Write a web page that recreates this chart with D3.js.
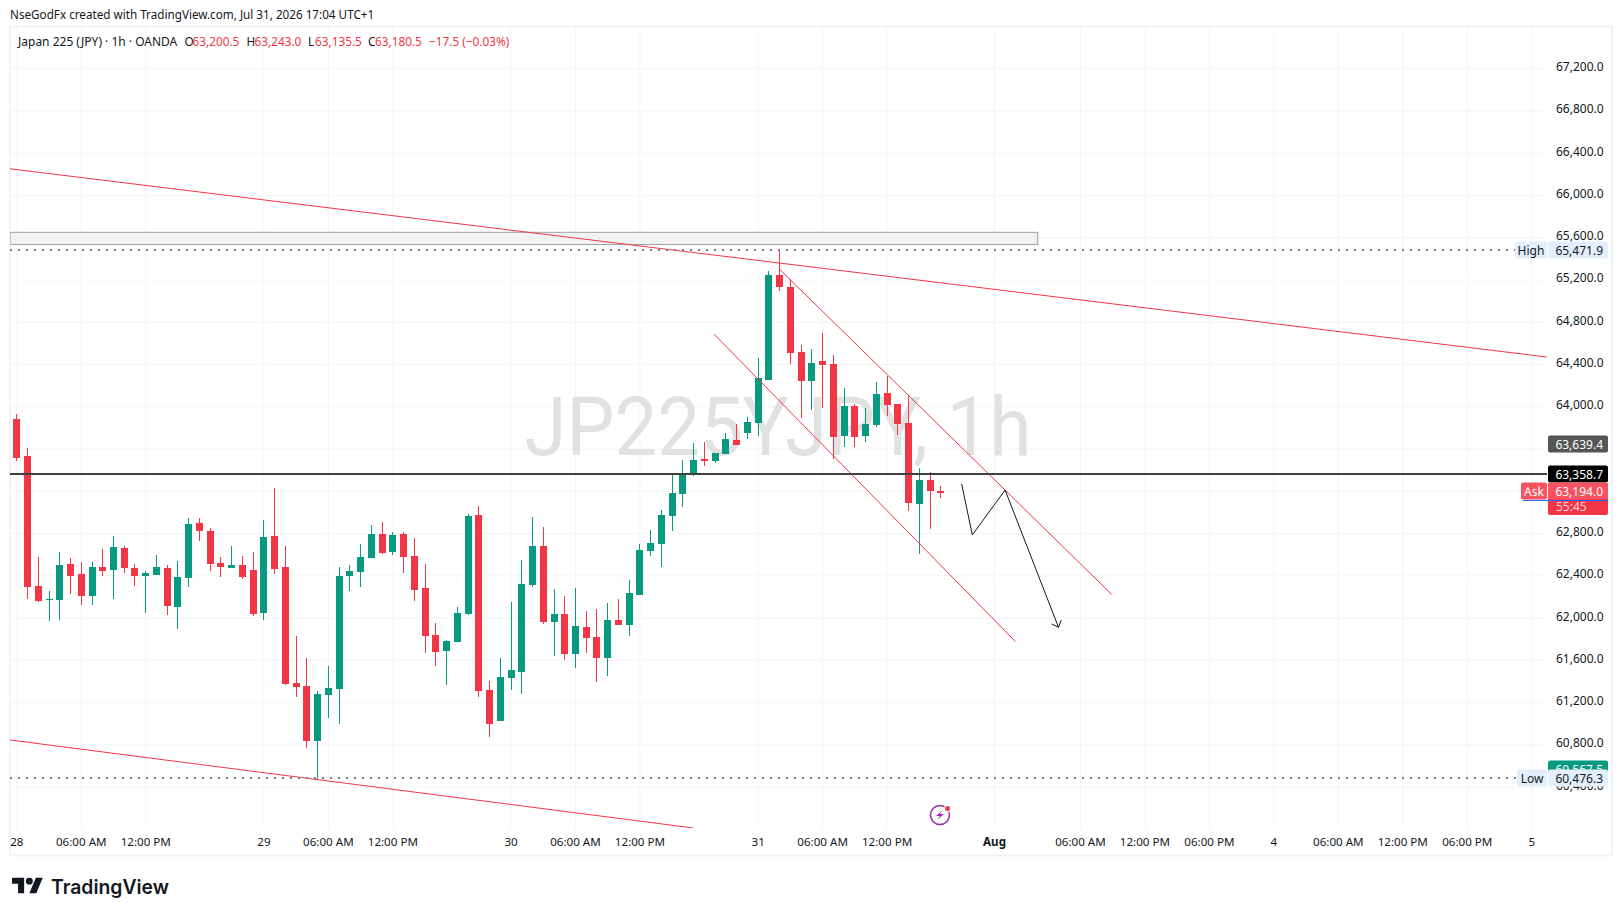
<!DOCTYPE html>
<html>
<head>
<meta charset="utf-8">
<style>
  html, body { margin: 0; padding: 0; background: #fff; overflow: hidden; }
  svg { display: block; }
  text { font-family: "Noto Sans", sans-serif; fill: #131722; }
</style>
</head>
<body>
<svg id="chart" width="1623" height="916"></svg>
<script src="https://cdn.jsdelivr.net/npm/d3@7"></script>
<script>
// 1h candles, one entry per bar
const opens = [63880,63530,62299,62167,62167,62508,62413,62205,62479,62451,62659,62470,62394,62404,62470,62101,62375,62896,62820,62517,62470,62498,62451,62044,62773,62479,61381,61353,60833,61268,61325,62394,62432,62564,62791,62621,62791,62583,62280,61836,61684,61769,62034,62971,61315,61022,61429,61485,62309,62678,61959,62034,61656,61911,61817,61618,61978,61930,62214,62631,62697,62962,63170,63359,63501,63482,63549,63681,63747,63842,64249,65243,65129,64514,64239,64429,64400,63719,64003,63719,63823,64126,64022,63842,63075,63303,63200.5];
const highs = [63927,63605,62574,62252,62621,62564,62526,62526,62650,62773,62678,62508,62441,62593,62498,62536,62943,62943,62848,62574,62678,62583,62621,62924,63227,62678,61826,61618,61306,61542,62479,62498,62697,62877,62905,62810,62810,62754,62508,61949,61788,62101,62981,63056,61400,61618,62148,62545,62952,62858,62271,62205,62280,62063,62082,62138,62176,62356,62697,62829,63019,63369,63492,63653,63662,63558,63747,63832,63899,64457,65280,65471.9,65205,64580,64542,64694,64485,64173,64022,63984,64230,64287,64022,64107,63416,63378,63243];
const lows = [63482,62176,62148,61968,61978,62224,62120,62120,62394,62176,62422,62299,62044,62404,62025,61892,62290,62725,62441,62385,62470,62366,62015,61978,62413,61362,61249,60766,60476.3,61050,60993,62252,62290,62564,62602,62593,62422,62157,61665,61542,61362,61769,62025,61249,60870,61022,61315,61277,62290,61940,61637,61599,61523,61665,61391,61447,61930,61826,62214,62583,62479,62820,63047,63340,63435,63463,63549,63634,63691,63719,64249,65091,64400,63889,63965,63984,63501,63615,63615,63662,63804,63908,63728,63009,62602,62839,63135.5];
const closes = [63511,62290,62157,62176,62498,62394,62205,62479,62441,62668,62470,62394,62422,62479,62110,62385,62886,62820,62508,62479,62498,62385,62034,62763,62460,61372,61344,60833,61277,61334,62394,62441,62574,62791,62612,62782,62574,62262,61826,61675,61779,62044,62962,61306,60993,61438,61504,62318,62678,61959,62034,61656,61921,61807,61618,61978,61930,62233,62640,62706,62971,63180,63369,63492,63482,63558,63691,63634,63851,64268,65243,65129,64504,64239,64410,64391,63709,64003,63709,63832,64116,64012,63832,63085,63303,63198,63180.5];

const priceTicks = d3.range(60400, 67201, 400);
const hiddenPriceLabels = [63600, 63200]; // sit under the last price labels
const timeTickIdx = [0, 6, 12, 23, 29, 35, 46, 52, 58, 69, 75, 81, 91, 99, 105, 111, 117, 123, 129, 135, 141];
const timeTickLabels = ["28", "06:00 AM", "12:00 PM", "29", "06:00 AM", "12:00 PM", "30", "06:00 AM", "12:00 PM", "31", "06:00 AM", "12:00 PM", "Aug", "06:00 AM", "12:00 PM", "06:00 PM", "4", "06:00 AM", "12:00 PM", "06:00 PM", "5"];

// drawings, as [bar index, price]
const topTrend = [[-0.587, 66247.6], [142.43, 64466.5]];
const bottomTrend = [[-0.587, 60842], [63.03, 60009]];
const channelUpper = [[71.02, 65299], [101.95, 62220]];
const channelLower = [[64.96, 64681], [92.99, 61774]];
const projection = [[87.99, 63264.7], [88.98, 62782], [92.03, 63208], [97, 61908.6]];
const arrowHead = [[96.37, 61940], [97, 61908.6], [97.25, 61976]];
const zone = { from: -0.587, to: 95.07, top: 65646.6, bottom: 65531 };

const highPrice = 65471.9, lowPrice = 60476.3, linePrice = 63358.7;
const legendParts = ["O", "63,200.5", "H", "63,243.0", "L", "63,135.5", "C", "63,180.5", "−17.5 (−0.03%)"];
const legendX = [184.5, 192.5, 246.5, 254.5, 308, 315, 368, 375, 429];

const RED = "#f23645", GREEN = "#089981", GRID = "#f3f4f6";
const paneLeft = 10, paneRight = 1547, paneTop = 27, paneBottom = 828;

const svg = d3.select("#chart");
const x = d3.scaleLinear().domain([0, 86]).range([16.3, 940.3]);
const y = d3.scaleLinear().domain([60400, 64000]).range([786.7, 406.3]);
const fmt = d3.format(",.1f");

svg.append("defs").append("clipPath").attr("id", "pane")
    .append("rect").attr("x", paneLeft).attr("y", paneTop)
    .attr("width", paneRight - paneLeft).attr("height", paneBottom - paneTop);

// frame
svg.append("rect").attr("x", 10).attr("y", 26.5).attr("width", 1602).attr("height", 829)
    .attr("fill", "none").attr("stroke", "#f0f3fa").attr("stroke-width", 2);

// grid
const yGrid = svg.append("g").attr("transform", `translate(${paneLeft},0)`)
    .call(d3.axisRight(y).tickValues(priceTicks).tickSize(paneRight - paneLeft).tickFormat(""));
yGrid.select(".domain").remove();
yGrid.selectAll("line").attr("stroke", GRID);

const xGrid = svg.append("g").attr("transform", `translate(0,${paneBottom})`)
    .call(d3.axisBottom(x).tickValues(timeTickIdx).tickSize(paneTop - paneBottom).tickFormat(""));
xGrid.select(".domain").remove();
xGrid.selectAll("line").attr("stroke", GRID);

// watermark
svg.append("text").attr("x", 778).attr("y", 455).attr("text-anchor", "middle")
    .attr("textLength", 507).attr("lengthAdjust", "spacingAndGlyphs")
    .style("font-family", "Roboto").style("font-size", "82px").style("fill", "#e1e1e1")
    .text("JP225YJPY, 1h");

// candles
const candleG = svg.append("g").attr("clip-path", "url(#pane)");
const candles = candleG.selectAll("g").data(opens).join("g")
    .attr("fill", (d, i) => closes[i] >= d ? GREEN : RED);
candles.append("rect")
    .attr("x", (d, i) => Math.round(x(i)))
    .attr("width", 1)
    .attr("y", (d, i) => Math.round(y(highs[i])))
    .attr("height", (d, i) => Math.max(1, Math.round(y(lows[i])) - Math.round(y(highs[i]))));
candles.append("rect")
    .attr("x", (d, i) => Math.round(x(i)) - 3)
    .attr("width", 7)
    .attr("y", (d, i) => Math.round(y(Math.max(d, closes[i]))))
    .attr("height", (d, i) => Math.max(1, Math.round(y(Math.min(d, closes[i]))) - Math.round(y(Math.max(d, closes[i])))));

// drawings
const line = d3.line().x(d => x(d[0])).y(d => y(d[1]));
const drawings = svg.append("g").attr("clip-path", "url(#pane)").attr("fill", "none");

drawings.append("rect")
    .attr("x", x(zone.from)).attr("y", y(zone.top))
    .attr("width", x(zone.to) - x(zone.from)).attr("height", y(zone.bottom) - y(zone.top))
    .attr("fill", "#f2f2f2").attr("stroke", "#9e9e9e");

[topTrend, bottomTrend, channelUpper, channelLower].forEach(pts => {
    drawings.append("path").attr("d", line(pts)).attr("stroke", RED).attr("stroke-width", 1);
});
drawings.append("path").attr("d", line(projection)).attr("stroke", "#131722").attr("stroke-width", 1);
drawings.append("path").attr("d", line(arrowHead)).attr("stroke", "#131722").attr("stroke-width", 1);

[highPrice, lowPrice].forEach(p => {
    drawings.append("line").attr("x1", paneLeft).attr("x2", paneRight)
        .attr("y1", Math.floor(y(p))).attr("y2", Math.floor(y(p)))
        .attr("stroke", "#787b86").attr("stroke-width", 2).attr("stroke-dasharray", "2 6");
});
drawings.append("line").attr("x1", paneLeft).attr("x2", paneRight + 1)
    .attr("y1", y(linePrice)).attr("y2", y(linePrice))
    .attr("stroke", "#404040").attr("stroke-width", 2);

// price axis
const yAxis = svg.append("g").attr("transform", "translate(1556,0)")
    .call(d3.axisRight(y).tickValues(priceTicks).tickSize(0).tickPadding(0)
        .tickFormat(d => hiddenPriceLabels.includes(d) ? "" : fmt(d)));
yAxis.select(".domain").remove();
yAxis.selectAll("text").attr("dy", "0.2em")
    .style("font-size", "12px").style("font-family", "Noto Sans").style("fill", "#131722");

// time axis
const xAxis = svg.append("g").attr("transform", `translate(0,${paneBottom})`)
    .call(d3.axisBottom(x).tickValues(timeTickIdx).tickSize(0).tickPadding(9.5)
        .tickFormat((d, i) => timeTickLabels[i]));
xAxis.select(".domain").remove();
xAxis.selectAll("text").style("font-size", "11.6px").style("font-family", "Noto Sans").style("fill", "#131722")
    .style("font-weight", (d, i) => timeTickLabels[i] === "Aug" ? 700 : 400);

// price labels
function priceLabel(px, text, fill, color, h) {
    const cy = Math.floor(y(px));
    svg.append("rect").attr("x", 1548).attr("y", cy - h / 2).attr("width", 60).attr("height", h)
        .attr("rx", 2).attr("fill", fill);
    svg.append("text").attr("x", 1603).attr("y", cy + 4.5).attr("text-anchor", "end")
        .style("font-size", "12px").style("fill", color).text(text);
}
function sideTag(px, text, fill, color, left) {
    const cy = Math.floor(y(px));
    svg.append("rect").attr("x", left).attr("y", cy - 8.5).attr("width", 1547 - left).attr("height", 17)
        .attr("rx", 2).attr("fill", fill);
    svg.append("text").attr("x", (left + 1547) / 2).attr("y", cy + 4.5).attr("text-anchor", "middle")
        .style("font-size", "12px").style("fill", color).text(text);
}

priceLabel(63639.4, fmt(63639.4), "#555555", "#ffffff", 17);
priceLabel(linePrice, fmt(linePrice), "#000000", "#ffffff", 17);

// countdown block under the ask label
svg.append("rect").attr("x", 1548).attr("y", 483).attr("width", 60).attr("height", 32).attr("rx", 2).attr("fill", RED);
svg.append("text").attr("x", 1556).attr("y", 511).style("font-size", "12px").style("fill", "#fdd5d9").text("55:45");
priceLabel(63194, fmt(63194), "#f7525f", "#ffffff", 17);
sideTag(63194, "Ask", "#f7525f", "#ffffff", 1521);
svg.append("line").attr("x1", 1523).attr("x2", 1608).attr("y1", 500.5).attr("y2", 500.5).attr("stroke", "#2962ff");

priceLabel(60567.5, fmt(60567.5), GREEN, "#ffffff", 17);
priceLabel(highPrice, fmt(highPrice), "#e3effd", "#131722", 17);
sideTag(highPrice, "High", "#e3effd", "#131722", 1515);
priceLabel(lowPrice, fmt(lowPrice), "#e3effd", "#131722", 17);
sideTag(lowPrice, "Low", "#e3effd", "#131722", 1517);

// header and legend
svg.append("text").attr("x", 10).attr("y", 19).style("font-size", "11.7px")
    .text("NseGodFx created with TradingView.com, Jul 31, 2026 17:04 UTC+1");
svg.append("text").attr("x", 18).attr("y", 46).style("font-size", "12px")
    .text("Japan 225 (JPY) · 1h · OANDA");
svg.selectAll("text.legend").data(legendParts).join("text").attr("class", "legend")
    .attr("x", (d, i) => legendX[i]).attr("y", 46)
    .style("font-size", "11.8px")
    .style("fill", d => d.length === 1 ? "#131722" : RED)
    .text(d => d);

// event icon
const icon = svg.append("g").attr("transform", "translate(940,815)");
icon.append("circle").attr("r", 9.5).attr("fill", "none").attr("stroke", "#9c27b0").attr("stroke-width", 1.5);
icon.append("path").attr("d", "M3-5L-4 1H0L-3 5L4-1H0Z").attr("fill", "#9c27b0");
icon.append("circle").attr("cx", 7.5).attr("cy", -6.5).attr("r", 3.5).attr("fill", "#fff");
icon.append("circle").attr("cx", 7.5).attr("cy", -6.5).attr("r", 2.5).attr("fill", RED);

// logo
const logo = svg.append("g").attr("transform", "translate(12,874.2) scale(0.867)").attr("fill", "#131722");
logo.append("path").attr("d", "M14 22H7V11H0V4h14v18zM28 22h-8l7.5-18h8L28 22z");
logo.append("circle").attr("cx", 20).attr("cy", 8).attr("r", 4);
svg.append("text").attr("x", 51).attr("y", 893.5)
    .attr("textLength", 118).attr("lengthAdjust", "spacingAndGlyphs")
    .style("font-family", "Inter").style("font-weight", 600).style("font-size", "20px")
    .text("TradingView");
</script>
</body>
</html>
